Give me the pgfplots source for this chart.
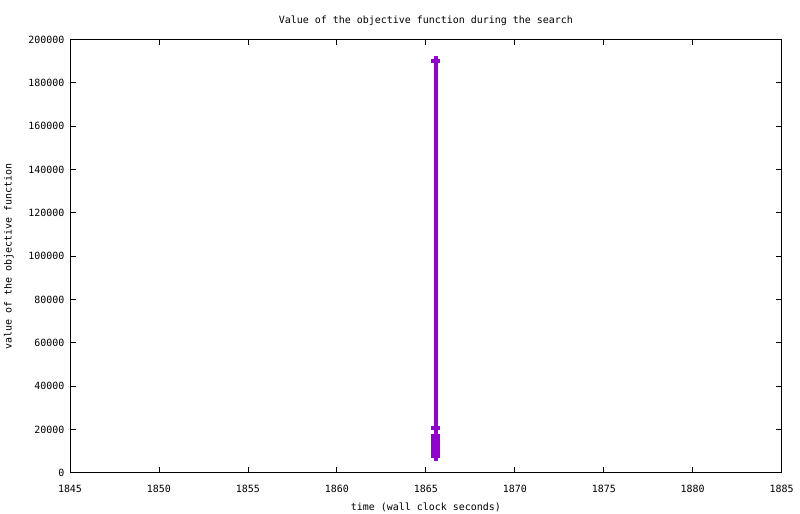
\documentclass[border=0pt]{standalone}
\usepackage{pgfplots}
\pgfplotsset{compat=1.18}
\usepackage{fontspec}
\setmainfont{DejaVu Sans Mono}
\definecolor{gpviolet}{RGB}{148,0,211}
\begin{document}
\begin{tikzpicture}[x=1bp,y=1bp]
\useasboundingbox (-70bp,-41.3bp) rectangle (730bp,472.7bp);
\begin{axis}[
    at={(0,0)}, anchor=south west,
    scale only axis,
    width=711.7bp, height=433.2bp,
    xmin=1845, xmax=1885,
    ymin=0, ymax=200000,
    xtick={1845,1850,...,1885},
    ytick={0,20000,...,200000},
    scaled y ticks=false,
    /pgf/number format/fixed,
    /pgf/number format/precision=0,
    /pgf/number format/1000 sep={},
    /pgf/number format/assume math mode=true,
    tick align=inside,
    major tick length=6bp,
    tick style={black, line width=0.8bp},
    axis line style={line width=0.8bp},
    ticklabel style={font=\fontsize{10}{11}\selectfont},
    xticklabel style={yshift=-9bp},
    yticklabel style={xshift=-2bp},
    title={Value of the objective function during the search},
    title style={font=\fontsize{10}{11}\selectfont, yshift=4bp},
    xlabel={time (wall clock seconds)},
    ylabel={value of the objective function},
    label style={font=\fontsize{10}{11}\selectfont},
    xlabel style={yshift=-3bp},
    ylabel style={yshift=8bp},
    clip=false,
]
\addplot[gpviolet, line width=4bp, mark=+, mark size=4.5bp,
    mark options={line width=4bp, line cap=butt, solid}]
    coordinates {
    (1865.55, 190250)
    (1865.55, 20600)
    (1865.55, 16950)
    (1865.55, 15300)
    (1865.55, 13700)
    (1865.55, 12100)
    (1865.55, 10600)
    (1865.55, 9200)
    (1865.55, 7700)
};
\end{axis}
\end{tikzpicture}
\end{document}
